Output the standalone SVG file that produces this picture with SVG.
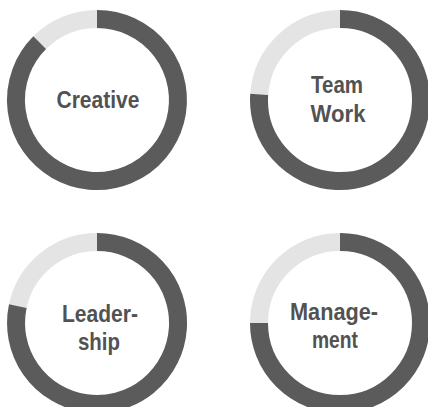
<svg xmlns="http://www.w3.org/2000/svg" width="428" height="407" viewBox="0 0 428 407">
<style>
.bg{fill:#ffffff}
.dark{fill:none;stroke:#5b5b5b;stroke-width:18}
.light{fill:none;stroke:#e4e4e4;stroke-width:18}
.lbl{font-family:"Liberation Sans",Arial,sans-serif;font-weight:700;font-size:24px;fill:#525252;text-anchor:middle}
</style>
<rect class="bg" x="0" y="0" width="428" height="407"/>
<g id="creative">
<path class="light" d="M97 19 A81 81 0 0 0 39.7 42.7"/>
<path class="dark" d="M97 19 A81 81 0 1 1 39.7 42.7"/>
<text class="lbl" x="98" y="108" textLength="83" lengthAdjust="spacingAndGlyphs">Creative</text>
</g>
<g id="teamwork">
<path class="light" d="M340 19 A81 81 0 0 0 259.2 94.4"/>
<path class="dark" d="M340 19 A81 81 0 1 1 259.2 94.4"/>
<text class="lbl" x="337" y="93" textLength="52" lengthAdjust="spacingAndGlyphs">Team</text>
<text class="lbl" x="338" y="122" textLength="55" lengthAdjust="spacingAndGlyphs">Work</text>
</g>
<g id="leadership">
<path class="light" d="M97 242 A81 81 0 0 0 17.8 306.2"/>
<path class="dark" d="M97 242 A81 81 0 1 1 17.8 306.2"/>
<text class="lbl" x="100" y="322" textLength="76" lengthAdjust="spacingAndGlyphs">Leader-</text>
<text class="lbl" x="99" y="350" textLength="42" lengthAdjust="spacingAndGlyphs">ship</text>
</g>
<g id="management">
<path class="light" d="M340 242 A81 81 0 0 0 259 323"/>
<path class="dark" d="M340 242 A81 81 0 1 1 259 323"/>
<text class="lbl" x="334" y="320" textLength="88" lengthAdjust="spacingAndGlyphs">Manage-</text>
<text class="lbl" x="335" y="348" textLength="46" lengthAdjust="spacingAndGlyphs">ment</text>
</g>
<g id="connectors"></g>
</svg>
